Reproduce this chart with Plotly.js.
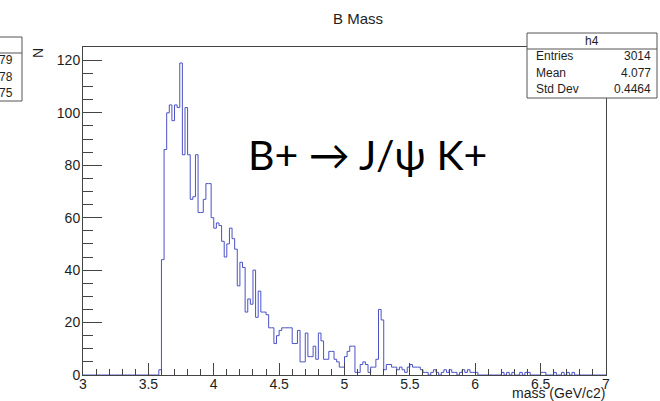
<!DOCTYPE html>
<html>
<head>
<meta charset="utf-8">
<script src="https://cdn.plot.ly/plotly-3.0.1.min.js"></script>
<style>
  html, body { margin: 0; padding: 0; background: #fff; }
  #chart { width: 660px; height: 401px; }
</style>
</head>
<body>
<div id="chart"></div>
<script>
// Histogram "h4": 200 bins from 3 to 7 GeV/c2 (bin width 0.02)
const histMin = 3.0;
const histMax = 7.0;
const counts = [
  // 3.00 - 3.38
  0,0,0,0,0,0,0,0,0,0,0,0,0,0,0,0,0,0,0,0,
  // 3.40 - 3.78
  0,0,0,0,0,0,0,0,0,2,44,86,100,103,97,103,102,119,84,102,
  // 3.80 - 4.18
  84,67,68,84,62,62,67,73,73,60,56,58,57,51,45,50,56,52,48,34,
  // 4.20 - 4.58
  43,41,24,29,27,40,22,32,24,24,23,18,18,12,15,17,18,18,18,18,
  // 4.60 - 4.98
  12,12,17,5,5,16,7,7,11,6,16,13,6,6,9,9,6,5,3,3,
  // 5.00 - 5.38
  7,9,11,11,1,1,4,5,4,1,3,3,6,25,21,2,4,4,3,3,
  // 5.40 - 5.78
  2,3,2,1,3,4,3,3,3,2,1,1,0,1,2,1,0,1,2,1,
  // 5.80 - 6.18
  2,1,1,0,1,2,1,2,1,1,1,0,0,0,0,0,0,0,0,0,
  // 6.20 - 6.58
  1,0,1,0,1,0,0,1,0,1,1,0,0,0,0,1,1,0,0,0,
  // 6.60 - 6.98
  1,0,0,1,0,1,0,1,0,0,0,0,0,0,0,0,0,0,0,0
];
const xTickVals = [3, 3.5, 4, 4.5, 5, 5.5, 6, 6.5, 7];
const xTickText = ["3", "3.5", "4", "4.5", "5", "5.5", "6", "6.5", "7"];
const yTickVals = [0, 20, 40, 60, 80, 100, 120];
const yTickText = ["0", "20", "40", "60", "80", "100", "120"];
const statLabels = ["Entries", "Mean", "Std Dev"];
const statValues = ["3014", "4.077", "0.4464"];
const leftBoxValues = ["79", "78", "75"];

// step outline through bin edges
const nb = counts.length;
const bw = (histMax - histMin) / nb;
const xs = [], ys = [];
for (let i = 0; i < nb; i++) { xs.push(histMin + i * bw); ys.push(counts[i]); }
xs.push(histMax); ys.push(counts[nb - 1]);

// pixel helpers (plot frame: x 83..606, y 47..375)
const L = 83, R = 606, T = 47, B = 375;
const px = p => (p - L) / (R - L);
const py = p => (B - p) / (B - T);

const font = "'Liberation Sans', Arial, Helvetica, sans-serif";
const ink = "#1e1e1e";

function note(text, x, y, opts) {
  return Object.assign({
    text: text, x: px(x), y: py(y), xref: "paper", yref: "paper",
    xanchor: "center", yanchor: "middle", showarrow: false,
    font: { family: font, size: 12, color: ink }
  }, opts || {});
}

const annotations = [
  note("B Mass", 358, 18, { font: { family: font, size: 15, color: ink } }),
  note("N", 38, 53, { textangle: -90, font: { family: font, size: 14, color: ink } }),
  note("mass (GeV/c2)", 607, 393, { xanchor: "right", font: { family: font, size: 14, color: ink } }),
  note("h4", 592, 41),
  note("B+ \u2192 J/\u03c8 K+", 367, 154, { font: { family: "Lato, 'Noto Sans', sans-serif", size: 41, color: "#000" } })
];
const statY = [56, 72.5, 89.5];
statLabels.forEach((t, k) => {
  annotations.push(note(t, 534, statY[k], { xanchor: "left" }));
  annotations.push(note(statValues[k], 653, statY[k], { xanchor: "right" }));
});
const leftY = [60, 77, 93];
leftBoxValues.forEach((t, k) => {
  annotations.push(note(t, 15, leftY[k], { xanchor: "right" }));
});

const boxLine = { color: "#555", width: 1 };
const shapes = [
  // stats box
  { type: "rect", xref: "paper", yref: "paper", x0: px(527), x1: px(657), y0: py(98), y1: py(33),
    fillcolor: "#fff", line: boxLine, layer: "above" },
  { type: "line", xref: "paper", yref: "paper", x0: px(527), x1: px(657), y0: py(49), y1: py(49),
    line: boxLine, layer: "above" },
  // partially visible box on the left
  { type: "rect", xref: "paper", yref: "paper", x0: px(-5), x1: px(22), y0: py(101), y1: py(37),
    fillcolor: "#fff", line: boxLine, layer: "above" },
  { type: "line", xref: "paper", yref: "paper", x0: px(-5), x1: px(22), y0: py(53), y1: py(53),
    line: boxLine, layer: "above" }
];

const trace = {
  type: "scatter", mode: "lines", x: xs, y: ys,
  line: { shape: "hv", color: "#4b52c6", width: 1 },
  hoverinfo: "skip", showlegend: false
};

const layout = {
  width: 660, height: 401,
  margin: { l: L, r: 660 - R, t: T, b: 401 - B, pad: 0 },
  paper_bgcolor: "#fff", plot_bgcolor: "#fff",
  showlegend: false,
  xaxis: {
    range: [histMin, histMax], tickvals: xTickVals, ticktext: xTickText,
    ticks: "inside", ticklen: 12, tickcolor: "#444", tickwidth: 1,
    minor: { dtick: 0.1, tick0: 3, ticks: "inside", ticklen: 6, tickcolor: "#444", tickwidth: 1, showgrid: false },
    showgrid: false, zeroline: false, showline: true, mirror: true, linecolor: "#444", linewidth: 1,
    tickfont: { family: font, size: 14, color: ink }, ticklabelstandoff: -4
  },
  yaxis: {
    range: [0, 125.1], tickvals: yTickVals, ticktext: yTickText,
    ticks: "inside", ticklen: 19, tickcolor: "#444", tickwidth: 1,
    minor: { dtick: 5, tick0: 0, ticks: "inside", ticklen: 10, tickcolor: "#444", tickwidth: 1, showgrid: false },
    showgrid: false, zeroline: false, showline: true, mirror: true, linecolor: "#444", linewidth: 1,
    tickfont: { family: font, size: 14, color: ink }, ticklabelstandoff: -1
  },
  annotations: annotations,
  shapes: shapes
};

Plotly.newPlot("chart", [trace], layout, { staticPlot: true, displayModeBar: false });
</script>
</body>
</html>
